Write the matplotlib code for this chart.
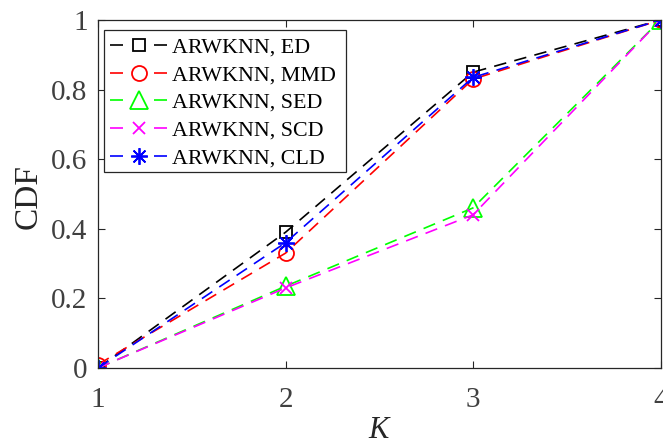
import matplotlib
matplotlib.use("Agg")
import matplotlib.pyplot as plt
from matplotlib.patches import Rectangle

K = [1, 2, 3, 4]
ed = [0.0, 0.39, 0.85, 1.0]
mmd = [0.01, 0.33, 0.83, 1.0]
sed = [0.0, 0.235, 0.46, 1.0]
scd = [0.0, 0.23, 0.44, 1.0]
cld = [0.0, 0.36, 0.835, 1.0]
labels = ["ARWKNN, ED", "ARWKNN, MMD", "ARWKNN, SED", "ARWKNN, SCD", "ARWKNN, CLD"]
yticks = [0, 0.2, 0.4, 0.6, 0.8, 1]
ytick_labels = ['0', '0.2', '0.4', '0.6', '0.8', '1']

plt.rcParams['font.family'] = ['Liberation Serif', 'DejaVu Serif']

W, H = 663, 441
fig = plt.figure(figsize=(W / 100, H / 100), dpi=100)
L, R, T, B = 98, 660.5, 20, 368
ax = fig.add_axes([L / W, 1 - B / H, (R - L) / W, (B - T) / H])

dash = (0, (7.5, 5))
lw = 1.2
ax.plot(K, ed, color='black', ls=dash, lw=lw, marker='s', mfc='none', ms=8.6, mew=1.3, label=labels[0])
ax.plot(K, mmd, color='red', ls=dash, lw=lw, marker='o', mfc='none', ms=10.8, mew=1.3, label=labels[1])
ax.plot(K, sed, color='#00ff00', ls=dash, lw=lw, marker='^', mfc='none', ms=12.5, mew=1.3, label=labels[2])
ax.plot(K, scd, color='magenta', ls=dash, lw=lw, marker='x', mfc='none', ms=8, mew=1.3, label=labels[3])
ax.plot(K, cld, color='blue', ls=dash, lw=lw, marker=(8, 2, 0), mfc='none', ms=12, mew=1.3, label=labels[4])

ax.set_xlim(1, 4)
ax.set_ylim(0, 1)
ax.set_xticks(K)
ax.set_yticks(yticks)
ax.set_yticklabels(ytick_labels)
ax.tick_params(direction='in', top=True, right=True, labelsize=21, labelcolor='#404040',
               color='#262626', length=5, width=0.8)
ax.tick_params(axis='x', pad=13.5)
ax.tick_params(axis='y', pad=7.5)
for s in ax.spines.values():
    s.set_linewidth(0.9)
    s.set_color('#262626')

fig.text(379 / W, 1 - 438 / H, 'K', fontsize=22, fontstyle='italic', color='#262626',
         ha='center', va='baseline')
fig.text(28 / W, 1 - 196.5 / H, 'CDF', fontsize=24, rotation=90, color='#262626',
         ha='center', va='center')

# legend frame
lx0, lx1, ly0, ly1 = 104, 346, 30, 172
ax.add_patch(Rectangle(((lx0 - L) / (R - L), (B - ly1) / (B - T)),
                       (lx1 - lx0) / (R - L), (ly1 - ly0) / (B - T),
                       transform=ax.transAxes, facecolor='white', edgecolor='#262626',
                       lw=0.9, zorder=4.5))

leg = ax.legend(loc='upper left', bbox_to_anchor=((110 - L) / (R - L), (B - 37) / (B - T)),
                fontsize=15.8, frameon=False, borderpad=0, borderaxespad=0,
                labelspacing=0.34, handlelength=57 / 21.9, handletextpad=0.2)
for ln in leg.get_lines():
    ln.set_linestyle((0, (7.8, 18.6)))

fig.savefig('out.png', dpi=100)
